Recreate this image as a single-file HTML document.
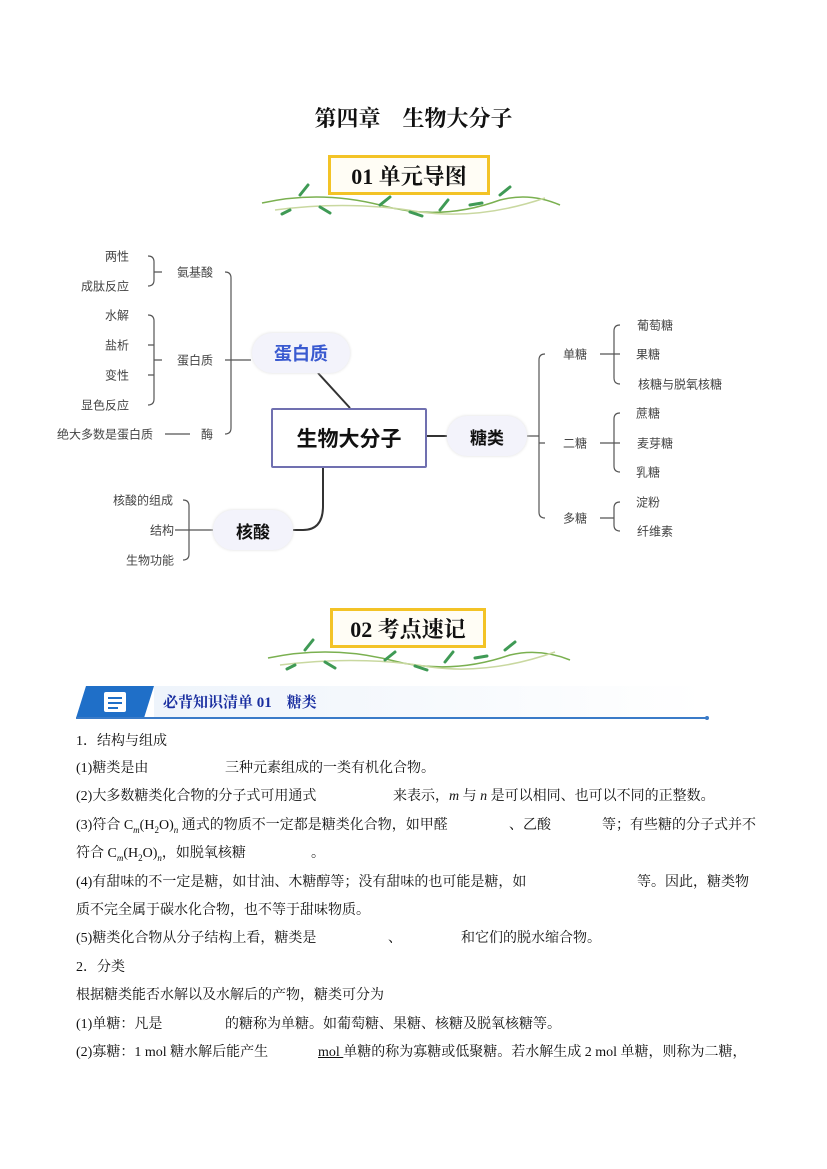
<!DOCTYPE html>
<html><head><meta charset="utf-8"><style>
body{margin:0;background:#fff}
#p{position:relative;width:827px;height:1169px;overflow:hidden;font-family:"Liberation Serif","Noto Serif CJK SC",serif;color:#111}
.a{position:absolute;white-space:nowrap}
.t{position:absolute;white-space:nowrap;font-size:14px;line-height:16px}
.m{position:absolute;white-space:nowrap;font-family:"Liberation Sans","Noto Sans CJK SC",sans-serif;font-size:12px;color:#444;transform:translate(-50%,-50%)}
.pill{position:absolute;background:#f3f3fb;border-radius:20px;font-family:"Liberation Sans","Noto Sans CJK SC",sans-serif;font-weight:bold;display:flex;align-items:center;justify-content:center;box-shadow:0 0 3px #ddd}
.badge{position:absolute;border:3px solid #f3c326;background:#fffdf5;font-weight:bold;font-size:22px;display:flex;align-items:center;justify-content:center;font-family:"Liberation Serif","Noto Serif CJK SC",serif}
sub{font-size:9px}
</style></head><body><div id="p">
<div class="a" style="left:0;width:827px;text-align:center;top:102px;font-size:22px;font-weight:bold">第四章　生物大分子</div>

<svg class="a" style="left:0;top:0" width="827" height="1169">
<g fill="none" stroke="#7ab050" stroke-width="1.5">
<path d="M262 203 Q320 190 380 205 Q440 222 500 200 Q530 192 560 205"/>
<path d="M275 210 Q350 200 420 212 Q480 220 545 198" stroke="#c9d8a0"/>
<path d="M268 658 Q330 645 390 660 Q450 676 510 655 Q540 648 570 660"/>
<path d="M280 665 Q360 655 430 667 Q490 675 555 652" stroke="#c9d8a0"/>
</g>
<g stroke="#3f9a55" stroke-width="3" stroke-linecap="round">
<path d="M300 195 l8 -10"/><path d="M320 207 l10 6"/><path d="M345 190 l-4 -10"/><path d="M380 205 l10 -8"/><path d="M410 212 l12 4"/><path d="M440 210 l8 -10"/><path d="M470 205 l12 -2"/><path d="M500 195 l10 -8"/><path d="M290 210 l-8 4"/>
<path d="M305 650 l8 -10"/><path d="M325 662 l10 6"/><path d="M350 645 l-4 -10"/><path d="M385 660 l10 -8"/><path d="M415 666 l12 4"/><path d="M445 662 l8 -10"/><path d="M475 658 l12 -2"/><path d="M505 650 l10 -8"/><path d="M295 665 l-8 4"/>
</g>
<g fill="none" stroke="#555" stroke-width="1.2">
<!-- left protein tree -->
<path d="M148 256 q6 0 6 6 v18 q0 6 -6 6 M154 272 h8"/>
<path d="M148 315 q6 0 6 6 v78 q0 6 -6 6 M148 345 h6 M148 375 h6 M154 360 h8"/>
<path d="M165 434 h25"/>
<path d="M225 272 q6 0 6 6 v150 q0 6 -6 6 M225 360 h6 M231 360 h20"/>
<path d="M183 500 q6 0 6 6 v48 q0 6 -6 6 M175 530 h14 M189 530 h24"/>
<!-- right -->
<path d="M527 436 h12 M545 354 q-6 0 -6 6 v152 q0 6 6 6 M539 443 h6"/>
<path d="M620 325 q-6 0 -6 6 v47 q0 6 6 6 M600 354 h20"/>
<path d="M620 413 q-6 0 -6 6 v47 q0 6 6 6 M600 443 h20"/>
<path d="M620 502 q-6 0 -6 6 v17 q0 6 6 6 M600 518 h14"/>
</g>
<g fill="none" stroke="#333" stroke-width="2">
<path d="M318 373 L350 408"/>
<path d="M425 436 h22"/>
<path d="M323 466 v40 q0 24 -20 24 h-10"/>
</g>
</svg>

<div class="badge" style="left:328px;top:155px;width:156px;height:34px">01 单元导图</div>
<div class="badge" style="left:330px;top:608px;width:150px;height:34px">02 考点速记</div>

<div class="a" style="left:271px;top:408px;width:152px;height:56px;border:2px solid #7070b0;border-radius:2px;display:flex;align-items:center;justify-content:center;font-family:'Liberation Sans','Noto Sans CJK SC',sans-serif;font-size:21px;font-weight:bold;background:#fff">生物大分子</div>
<div class="pill" style="left:252px;top:333px;width:98px;height:40px;color:#3a5ad0;font-size:18px">蛋白质</div>
<div class="pill" style="left:447px;top:416px;width:80px;height:40px;font-size:17px">糖类</div>
<div class="pill" style="left:213px;top:510px;width:80px;height:40px;font-size:17px">核酸</div>

<div class="m" style="left:117px;top:256px">两性</div>
<div class="m" style="left:105px;top:286px">成肽反应</div>
<div class="m" style="left:195px;top:272px">氨基酸</div>
<div class="m" style="left:117px;top:315px">水解</div>
<div class="m" style="left:117px;top:345px">盐析</div>
<div class="m" style="left:117px;top:375px">变性</div>
<div class="m" style="left:105px;top:405px">显色反应</div>
<div class="m" style="left:195px;top:360px">蛋白质</div>
<div class="m" style="left:207px;top:434px">酶</div>
<div class="m" style="left:105px;top:434px">绝大多数是蛋白质</div>
<div class="m" style="left:143px;top:500px">核酸的组成</div>
<div class="m" style="left:162px;top:530px">结构</div>
<div class="m" style="left:150px;top:560px">生物功能</div>
<div class="m" style="left:575px;top:354px">单糖</div>
<div class="m" style="left:575px;top:443px">二糖</div>
<div class="m" style="left:575px;top:518px">多糖</div>
<div class="m" style="left:655px;top:325px">葡萄糖</div>
<div class="m" style="left:648px;top:354px">果糖</div>
<div class="m" style="left:680px;top:384px">核糖与脱氧核糖</div>
<div class="m" style="left:648px;top:413px">蔗糖</div>
<div class="m" style="left:655px;top:443px">麦芽糖</div>
<div class="m" style="left:648px;top:472px">乳糖</div>
<div class="m" style="left:648px;top:502px">淀粉</div>
<div class="m" style="left:655px;top:531px">纤维素</div>

<svg class="a" style="left:74px;top:684px" width="640" height="40">
<defs><linearGradient id="g" x1="0" x2="1"><stop offset="0" stop-color="#eef4fb"/><stop offset="1" stop-color="#fff"/></linearGradient></defs>
<rect x="80" y="2" width="550" height="32" fill="url(#g)"/>
<polygon points="12,2 80,2 70,34 2,34" fill="#1f6fc8"/>
<rect x="30" y="8" width="22" height="20" fill="#fff" rx="2"/>
<path d="M34 14h14M34 19h14M34 24h10" stroke="#1f6fc8" stroke-width="2"/>
<path d="M2 34 H633" stroke="#3a7bc8" stroke-width="2"/>
<circle cx="633" cy="34" r="2" fill="#3a7bc8"/>
</svg>
<div class="a" style="left:163px;top:691px;font-size:15px;font-weight:bold;color:#1a2fa0">必背知识清单 01　糖类</div>

<div class="t" style="left:76px;top:734px">1．结构与组成</div>
<div class="t" style="left:76px;top:761px">(1)糖类是由</div><div class="t" style="left:225px;top:761px">三种元素组成的一类有机化合物。</div>
<div class="t" style="left:76px;top:789px">(2)大多数糖类化合物的分子式可用通式</div><div class="t" style="left:393px;top:789px">来表示，<i>m</i> 与 <i>n</i> 是可以相同、也可以不同的正整数。</div>
<div class="t" style="left:76px;top:818px">(3)符合 C<sub><i>m</i></sub>(H<sub>2</sub>O)<sub><i>n</i></sub> 通式的物质不一定都是糖类化合物，如甲醛</div><div class="t" style="left:509px;top:818px">、乙酸</div><div class="t" style="left:602px;top:818px">等；有些糖的分子式并不</div>
<div class="t" style="left:76px;top:846px">符合 C<sub><i>m</i></sub>(H<sub>2</sub>O)<sub><i>n</i></sub>，如脱氧核糖</div><div class="t" style="left:311px;top:846px">。</div>
<div class="t" style="left:76px;top:875px">(4)有甜味的不一定是糖，如甘油、木糖醇等；没有甜味的也可能是糖，如</div><div class="t" style="left:637px;top:875px">等。因此，糖类物</div>
<div class="t" style="left:76px;top:903px">质不完全属于碳水化合物，也不等于甜味物质。</div>
<div class="t" style="left:76px;top:931px">(5)糖类化合物从分子结构上看，糖类是</div><div class="t" style="left:388px;top:931px">、</div><div class="t" style="left:461px;top:931px">和它们的脱水缩合物。</div>
<div class="t" style="left:76px;top:960px">2．分类</div>
<div class="t" style="left:76px;top:988px">根据糖类能否水解以及水解后的产物，糖类可分为</div>
<div class="t" style="left:76px;top:1017px">(1)单糖：凡是</div><div class="t" style="left:225px;top:1017px">的糖称为单糖。如葡萄糖、果糖、核糖及脱氧核糖等。</div>
<div class="t" style="left:76px;top:1045px">(2)寡糖：1 mol 糖水解后能产生</div><div class="t" style="left:318px;top:1045px"><u>mol </u>单糖的称为寡糖或低聚糖。若水解生成 2 mol 单糖，则称为二糖，</div>
</div></body></html>
